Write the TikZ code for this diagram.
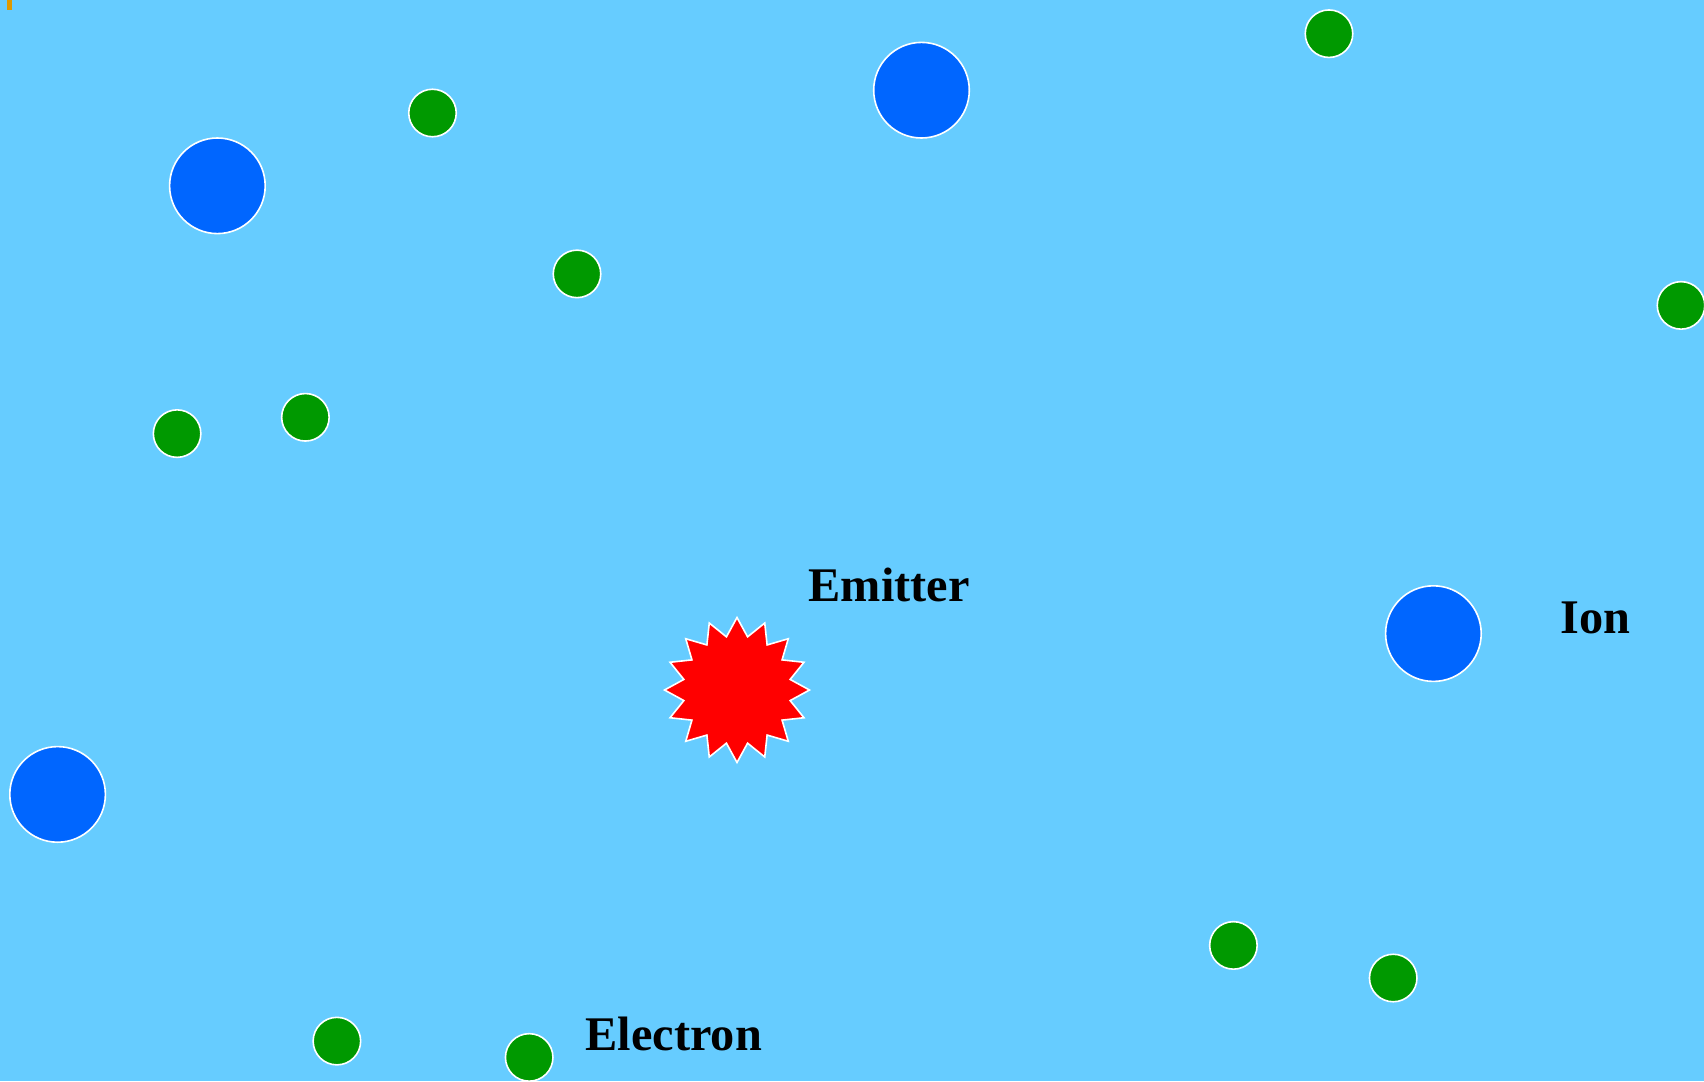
\documentclass[tikz,border=0pt]{standalone}
\usepackage{fontspec}
\setmainfont{Liberation Serif}
\definecolor{bg}{HTML}{66CCFF}
\definecolor{ionblue}{HTML}{0066FF}
\definecolor{elgreen}{HTML}{009900}
\definecolor{emred}{HTML}{FF0000}
\definecolor{markor}{HTML}{DD9900}
\tikzset{
  ion/.style={circle,fill=ionblue,draw=white,line width=1.6pt,minimum size=95.6pt,inner sep=0pt},
  electron/.style={circle,fill=elgreen,draw=white,line width=1.6pt,minimum size=47.5pt,inner sep=0pt},
  lbl/.style={font=\fontsize{48.3}{50}\selectfont\bfseries,inner sep=0pt,anchor=base west,text=black}
}
\begin{document}
\begin{tikzpicture}[x=1pt,y=-1pt]
\fill[bg] (0,0) rectangle (1704,1081);
\useasboundingbox (0,0) rectangle (1704,1081);
\fill[markor] (7,0) rectangle (12,10);
% ions
\node[ion] (i1) at (217.4,185.8) {};
\node[ion] (i2) at (921.5,90.2) {};
\node[ion] (i3) at (1433.4,633.6) {};
\node[ion] (i4) at (57.6,794.4) {};
% electrons
\node[electron] (e1) at (1329,33.7) {};
\node[electron] (e2) at (432.5,113) {};
\node[electron] (e3) at (577,273.9) {};
\node[electron] (e4) at (1681,305.4) {};
\node[electron] (e5) at (177.1,433.6) {};
\node[electron] (e6) at (305.4,417.3) {};
\node[electron] (e7) at (1233.4,945.4) {};
\node[electron] (e8) at (1393.2,978) {};
\node[electron] (e9) at (336.9,1041.1) {};
\node[electron] (e10) at (529.2,1057.4) {};
% emitter starburst
\coordinate (em) at (737,690);
\begin{scope}[shift={(em)}]
\fill[emred,draw=white,line width=1.6pt,line join=miter]
  plot[samples at={0,...,31}] ({-90+11.25*\x}:{72.5-18.3*mod(\x,2)}) -- cycle;
\end{scope}
% labels
\node[lbl] (lem) at (808.5,601.7) {Emitter};
\node[lbl] (lion) at (1560.5,633.3) {Ion};
\node[lbl] (lel) at (585.5,1050) {Electron};
\end{tikzpicture}
\end{document}
